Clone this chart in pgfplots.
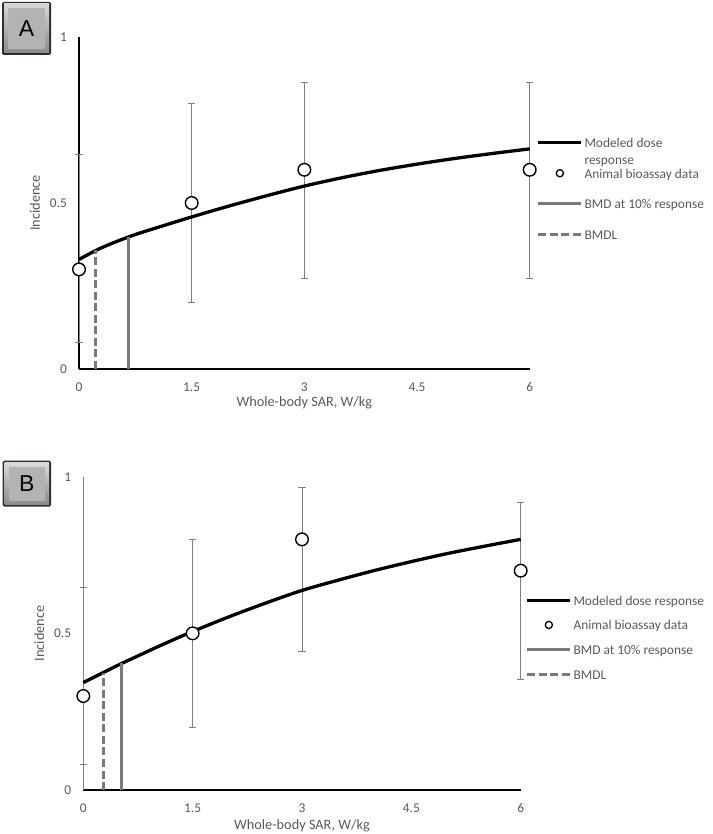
\documentclass[border=0pt]{standalone}
\usepackage{pgfplots}
\pgfplotsset{compat=1.18}
\usepackage{fontspec}
\setmainfont{Carlito}
\newfontfamily\btnfont{Liberation Sans}
\definecolor{txtgray}{HTML}{595959}
\definecolor{errgray}{HTML}{7F7F7F}
\definecolor{bmdgray}{HTML}{7A7A7A}
\definecolor{btnfill}{HTML}{B5B3B1}
\definecolor{btnlight}{HTML}{DAD8D6}
\definecolor{btndark}{HTML}{8C8A88}
\newcommand\legfont{\fontsize{13.4}{16}\selectfont\color{txtgray}}

\pgfplotstableread{
x y ep em top bot
0 0.3 0.345 0.22 0.645 0.08
1.5 0.5 0.30 0.30 0.80 0.20
3 0.6 0.262 0.328 0.862 0.272
6 0.6 0.262 0.328 0.862 0.272
}\dataA
\pgfplotstableread{
x y ep em top bot
0 0.3 0.346 0.22 0.646 0.08
1.5 0.5 0.30 0.30 0.80 0.20
3 0.8 0.164 0.358 0.964 0.442
6 0.7 0.219 0.346 0.919 0.354
}\dataB

\pgfplotsset{
 mycommon/.style={
  scale only axis, clip=false,
  xmin=0,xmax=6,ymin=0,ymax=1,
  axis x line*=bottom, axis y line*=left,
  xtick={0,1.5,3,4.5,6}, ytick={0,0.5,1},
  major tick length=0pt,
  tick label style={font=\fontsize{13.4}{16}\selectfont, text=txtgray},
  /pgf/number format/assume math mode=true,
  yticklabel style={xshift=-8.6pt},
  xticklabel style={yshift=-10pt},
  label style={font=\fontsize{14.3}{17}\selectfont, text=txtgray},
  xlabel={Whole-body SAR, W/kg},
  ylabel={Incidence},
  legend style={draw=none, fill=none, inner sep=0pt, anchor=north west,
    nodes={inner sep=1.5pt}},
  legend cell align=left,
  x axis line style={line width=1.5pt, black},
 },
}

\begin{document}
\begin{tikzpicture}[x=1pt,y=1pt]
\useasboundingbox (0,0) rectangle (712,834);

% Button A
\fill[black!82, rounded corners=1.5pt] (2,779) rectangle (51,832);
\shade[top color=btnlight, bottom color=btndark] (4,781) rectangle (49,830);
\fill[btnfill] (8,785) rectangle (45,826);
\node[font=\btnfont\fontsize{23}{23}\selectfont] at (26.5,805.5) {A};

% Button B
\fill[black!82, rounded corners=1.5pt] (2.7,327.3) rectangle (51,373.3);
\shade[top color=btnlight, bottom color=btndark] (4.7,329.3) rectangle (49,371.3);
\fill[btnfill] (8.7,333.3) rectangle (45,367.3);
\node[font=\btnfont\fontsize{23}{23}\selectfont] at (26.8,350.3) {B};

\begin{axis}[mycommon,
  at={(79pt,465pt)}, anchor=south west,
  width=450.7pt, height=332pt,
  y axis line style={line width=1.2pt, black},
  ylabel style={at={(axis description cs:-0.0976,0.5)}, anchor=center},
  xlabel style={at={(axis description cs:0.5,-0.102)}, anchor=center},
  legend style={at={(axis description cs:1.0151,0.7063)}, row sep=15pt},
]
\addplot[forget plot, mark=none, draw=none,
   error bars/.cd, y dir=both, y explicit, error mark=none,
   error bar style={line width=1pt, draw=errgray}]
   table[x=x,y=y,y error plus=ep,y error minus=em] {\dataA};
\addplot[forget plot, only marks, mark=-, mark size=3.7pt, mark options={draw=errgray, line width=1pt}] table[x=x,y=top] {\dataA};
\addplot[forget plot, only marks, mark=-, mark size=3.7pt, mark options={draw=errgray, line width=1pt}] table[x=x,y=bot] {\dataA};
\addplot[forget plot, only marks, mark=*, mark size=6.3pt, mark options={fill=white, draw=black, line width=1.4pt}] table[x=x,y=y] {\dataA};
\addplot[forget plot, black, line width=3.3pt, smooth, mark=none] coordinates {(0,0.330) (0.25,0.360) (0.5,0.384) (0.75,0.405) (1,0.423) (1.5,0.458) (2,0.491) (2.5,0.522) (3,0.551) (3.5,0.576) (4,0.598) (4.5,0.617) (5,0.634) (5.5,0.649) (6,0.663)};
\addplot[forget plot, color=bmdgray, line width=3pt, mark=none] coordinates {(0.665,0) (0.665,0.397)};
\addplot[forget plot, color=bmdgray, line width=3pt, mark=none, dash pattern=on 8pt off 3.5pt] coordinates {(0.215,0) (0.215,0.357)};

\addlegendimage{legend image code/.code={\draw[black,line width=3.3pt] (0pt,0pt)--(43pt,0pt);}}
\addlegendentry{\legfont\strut\raisebox{0pt}[\height][0pt]{\vtop{\baselineskip=17pt\lineskiplimit=-20pt\hbox{Modeled dose}\hbox{response}}}}
\addlegendimage{legend image code/.code={\path (0pt,0pt) (43pt,0pt); \draw[black,line width=1.3pt] (21.5pt,0pt) circle[radius=3.6pt];}}
\addlegendentry{\legfont\strut Animal bioassay data}
\addlegendimage{legend image code/.code={\draw[bmdgray,line width=3pt] (0pt,0pt)--(43pt,0pt);}}
\addlegendentry{\legfont\strut BMD at 10\% response}
\addlegendimage{legend image code/.code={\draw[bmdgray,line width=3pt,dash pattern=on 8pt off 3.5pt] (0pt,0pt)--(43pt,0pt);}}
\addlegendentry{\legfont\strut BMDL}
\end{axis}

\begin{axis}[mycommon,
  at={(83.3pt,44pt)}, anchor=south west,
  width=437.4pt, height=313.3pt,
  y axis line style={line width=1.2pt, errgray},
  ylabel style={at={(axis description cs:-0.1006,0.5)}, anchor=center},
  xlabel style={at={(axis description cs:0.5,-0.115)}, anchor=center},
  legend style={at={(axis description cs:1.011,0.6313)}, row sep=9pt},
]
\addplot[forget plot, mark=none, draw=none,
   error bars/.cd, y dir=both, y explicit, error mark=none,
   error bar style={line width=1pt, draw=errgray}]
   table[x=x,y=y,y error plus=ep,y error minus=em] {\dataB};
\addplot[forget plot, only marks, mark=-, mark size=3.7pt, mark options={draw=errgray, line width=1pt}] table[x=x,y=top] {\dataB};
\addplot[forget plot, only marks, mark=-, mark size=3.7pt, mark options={draw=errgray, line width=1pt}] table[x=x,y=bot] {\dataB};
\addplot[forget plot, only marks, mark=*, mark size=6.3pt, mark options={fill=white, draw=black, line width=1.4pt}] table[x=x,y=y] {\dataB};
\addplot[forget plot, black, line width=3.3pt, smooth, mark=none] coordinates {(0,0.343) (0.25,0.372) (0.5,0.401) (0.75,0.428) (1,0.455) (1.25,0.481) (1.5,0.506) (2,0.553) (2.5,0.5965) (3,0.637) (3.5,0.670) (4,0.701) (4.5,0.729) (5,0.755) (5.5,0.778) (6,0.80)};
\addplot[forget plot, color=bmdgray, line width=3pt, mark=none] coordinates {(0.53,0) (0.53,0.405)};
\addplot[forget plot, color=bmdgray, line width=3pt, mark=none, dash pattern=on 8pt off 3.5pt] coordinates {(0.28,0) (0.28,0.375)};

\addlegendimage{legend image code/.code={\draw[black,line width=3.3pt] (0pt,0pt)--(43pt,0pt);}}
\addlegendentry{\legfont\strut Modeled dose response}
\addlegendimage{legend image code/.code={\path (0pt,0pt) (43pt,0pt); \draw[black,line width=1.3pt] (21.5pt,0pt) circle[radius=3.6pt];}}
\addlegendentry{\legfont\strut Animal bioassay data}
\addlegendimage{legend image code/.code={\draw[bmdgray,line width=3pt] (0pt,0pt)--(43pt,0pt);}}
\addlegendentry{\legfont\strut BMD at 10\% response}
\addlegendimage{legend image code/.code={\draw[bmdgray,line width=3pt,dash pattern=on 8pt off 3.5pt] (0pt,0pt)--(43pt,0pt);}}
\addlegendentry{\legfont\strut BMDL}
\end{axis}
\end{tikzpicture}
\end{document}
